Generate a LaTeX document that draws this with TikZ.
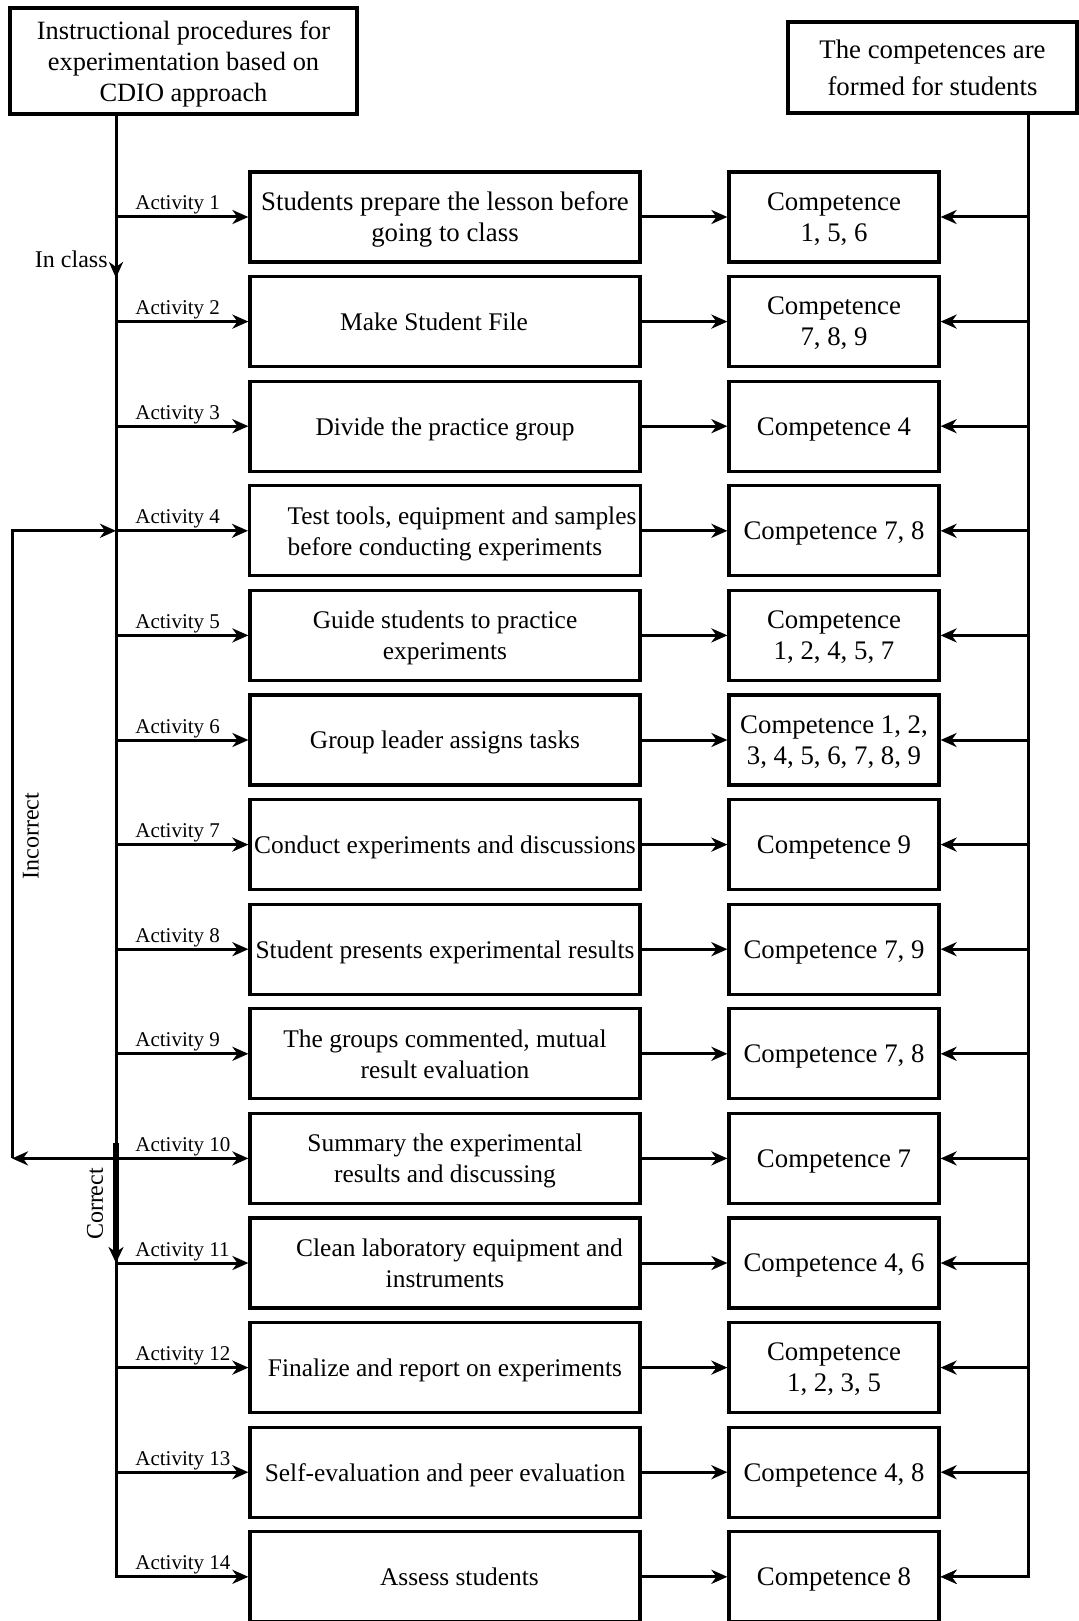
\documentclass[tikz,border=0pt]{standalone}
\usepackage{fontspec}
\setmainfont{Liberation Serif}
\usetikzlibrary{arrows.meta,calc}
\begin{document}
\begin{tikzpicture}[x=0.5pt,y=-0.5pt,
  box/.style={draw,line width=1.6pt,inner sep=2pt,align=center,text depth=0pt,
    font=\fontsize{12.7}{15.5}\selectfont},
  actbox/.style={box,minimum width=195pt,minimum height=45pt},
  compbox/.style={box,minimum width=105pt,minimum height=45pt,
    font=\fontsize{13.4}{15.5}\selectfont},
  headbox/.style={box,font=\fontsize{13.2}{15.5}\selectfont},
  arr/.style={line width=1.5pt,-{Stealth[length=8pt,width=7pt,inset=2.5pt]}},
  lbl/.style={font=\fontsize{10.5}{12}\selectfont,inner sep=0pt},
  side/.style={font=\fontsize{12}{14}\selectfont,inner sep=0pt}]
\useasboundingbox (0,0) rectangle (1079,1621);

\node[headbox,minimum width=173.5pt,minimum height=53pt] (ltop) at (183.5,61)
  {Instructional procedures for\\experimentation based on\\CDIO approach};
\node[headbox,minimum width=144.5pt,minimum height=45.5pt,
  font=\fontsize{13.4}{18.5}\selectfont] (rtop) at (932.5,67.5)
  {The competences are\\formed for students};

\coordinate (L) at (116,113);
\coordinate (R) at (1028,113);

\node[actbox,font=\fontsize{13.4}{15.5}\selectfont] (a1) at (445,217) {Students prepare the lesson before\\going to class};
\node[actbox] (a2) at (445,321.6) {\hspace*{-11pt}Make Student File};
\node[actbox] (a3) at (445,426.2) {Divide the practice group};
\node[actbox,align=left] (a4) at (445,530.8) {\hspace*{17pt}Test tools, equipment and samples\\\hspace*{17pt}before conducting experiments};
\node[actbox] (a5) at (445,635.4) {Guide students to practice\\experiments};
\node[actbox] (a6) at (445,740) {Group leader assigns tasks};
\node[actbox] (a7) at (445,844.6) {Conduct experiments and discussions};
\node[actbox] (a8) at (445,949.2) {Student presents experimental results};
\node[actbox] (a9) at (445,1053.8) {The groups commented, mutual\\result evaluation};
\node[actbox] (a10) at (445,1158.4) {Summary the experimental\\results and discussing};
\node[actbox] (a11) at (445,1263) {\hspace*{14.5pt}Clean laboratory equipment and\\instruments};
\node[actbox] (a12) at (445,1367.6) {Finalize and report on experiments};
\node[actbox] (a13) at (445,1472.2) {Self-evaluation and peer evaluation};
\node[actbox] (a14) at (445,1576.8) {\hspace*{14.5pt}Assess students};

\node[compbox] (c1) at (834,217) {Competence\\1, 5, 6};
\node[compbox] (c2) at (834,321.6) {Competence\\7, 8, 9};
\node[compbox] (c3) at (834,426.2) {Competence 4};
\node[compbox] (c4) at (834,530.8) {Competence 7, 8};
\node[compbox] (c5) at (834,635.4) {Competence\\1, 2, 4, 5, 7};
\node[compbox] (c6) at (834,740) {Competence 1, 2,\\3, 4, 5, 6, 7, 8, 9};
\node[compbox] (c7) at (834,844.6) {Competence 9};
\node[compbox] (c8) at (834,949.2) {Competence 7, 9};
\node[compbox] (c9) at (834,1053.8) {Competence 7, 8};
\node[compbox] (c10) at (834,1158.4) {Competence 7};
\node[compbox] (c11) at (834,1263) {Competence 4, 6};
\node[compbox] (c12) at (834,1367.6) {Competence\\1, 2, 3, 5};
\node[compbox] (c13) at (834,1472.2) {Competence 4, 8};
\node[compbox] (c14) at (834,1576.8) {Competence 8};

% main spines
\draw[arr] (L) |- (a14.west);
\draw[arr] (R) |- (c14.east);

\foreach \i in {1,...,14}{
  \draw[arr] (a\i.east) -- (c\i.west);
  \draw[arr] (c\i.east -| R) -- (c\i.east);
  \node[lbl,anchor=base west] at ($(a\i.west -| L)+(19,-7)$) {Activity \i};
}
\foreach \i in {1,...,13}{
  \draw[arr] (a\i.west -| L) -- (a\i.west);
}

% in class
\draw[line width=1.5pt,-{Stealth[length=8pt,width=7pt,inset=2.5pt]}] (116,255) -- (116,278);
\node[side,anchor=base east] at (108,268) {In class};

% incorrect loop
\coordinate (I4) at (12,530.8);
\coordinate (I10) at (12,1158.4);
\draw[arr] (a10.west -| L) -- (I10);
\draw[arr] (I10) -- (I4) -- (a4.west -| L);
\node[side,rotate=90] at (31,836) {Incorrect};

% correct
\coordinate (C1) at (116,1143);
\coordinate (C2) at (116,1263);
\draw[line width=2.6pt,-{Stealth[length=8pt,width=7.5pt,inset=2.5pt]}] (C1) -- (C2);
\node[side,rotate=90] at (95,1204) {Correct};
\end{tikzpicture}
\end{document}
